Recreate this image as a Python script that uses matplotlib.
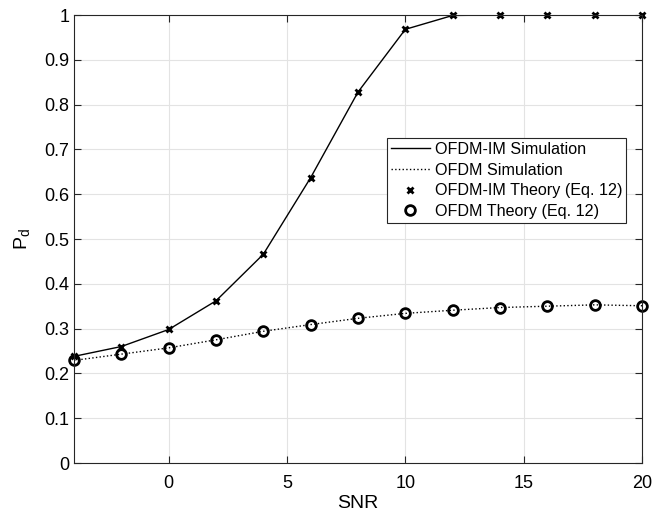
import numpy as np
import matplotlib.pyplot as plt

plt.rcParams['font.family'] = ['Liberation Sans', 'DejaVu Sans']

snr = [-4, -2, 0, 2, 4, 6, 8, 10, 12, 14, 16, 18, 20]
pd_ofdm_im = [0.238, 0.260, 0.298, 0.362, 0.466, 0.637, 0.828, 0.968, 0.999, 1.0, 1.0, 1.0, 1.0]
pd_ofdm = [0.229, 0.243, 0.257, 0.275, 0.294, 0.309, 0.323, 0.334, 0.341, 0.347, 0.350, 0.353, 0.351]

fig = plt.figure(figsize=(6.54, 5.17), dpi=100)
ax = fig.add_axes([74 / 654, 1 - 463 / 517, 568 / 654, 448 / 517])

ax.plot(snr, pd_ofdm_im, '-', color='black', lw=1.0, label='OFDM-IM Simulation')
ax.plot(snr, pd_ofdm, ':', color='black', lw=1.0, label='OFDM Simulation')
ax.plot(snr, pd_ofdm_im, 'x', color='black', ms=5, mew=2, ls='none', clip_on=False,
        label='OFDM-IM Theory (Eq. 12)')
ax.plot(snr, pd_ofdm, 'o', color='black', mfc='none', ms=7, mew=2, ls='none', clip_on=False,
        label='OFDM Theory (Eq. 12)')

ax.set_xlim(-4, 20)
ax.set_ylim(0, 1)
ax.set_xticks([0, 5, 10, 15, 20])
ax.set_yticks(np.arange(0, 1.01, 0.1))
ax.set_yticklabels(['0', '0.1', '0.2', '0.3', '0.4', '0.5', '0.6', '0.7', '0.8', '0.9', '1'])
ax.grid(True, color='#e3e3e3', lw=0.8)
ax.set_axisbelow(True)
ax.tick_params(direction='in', top=True, right=True, labelsize=13, length=5, color='#262626')
ax.tick_params(axis='x', pad=9)
for s in ax.spines.values():
    s.set_color('#262626')
    s.set_linewidth(0.8)

ax.set_xlabel('SNR', fontsize=14, labelpad=2)
ax.set_ylabel('P$_\\mathregular{d}$', fontsize=14, labelpad=8)

leg = ax.legend(loc='upper left', bbox_to_anchor=(313 / 568, (463 - 138) / 448),
                fontsize=11.6, fancybox=False, framealpha=1, edgecolor='#262626',
                handlelength=2.4, handletextpad=0.3, borderpad=0.25, labelspacing=0.35,
                borderaxespad=0)
leg.get_frame().set_linewidth(0.8)

fig.savefig('out.png', dpi=100)
